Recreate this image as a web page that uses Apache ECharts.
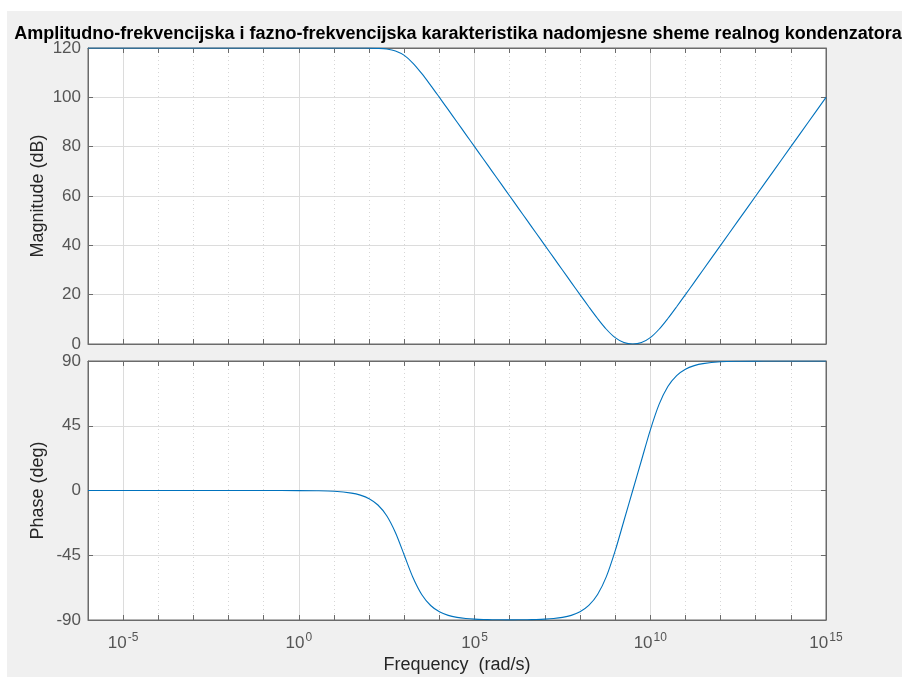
<!DOCTYPE html>
<html>
<head>
<meta charset="utf-8">
<script src="https://cdn.jsdelivr.net/npm/echarts@6/dist/echarts.min.js"></script>
<style>
html,body{margin:0;padding:0;background:#ffffff;}
#bg{position:absolute;left:7px;top:11px;right:0;bottom:0;background:#f0f0f0;}
#chart{position:absolute;left:0;top:0;width:902px;height:677px;}
</style>
</head>
<body>
<div id="bg"></div>
<div id="chart"></div>
<script>
// Frequency as decade exponent: omega = 10^exp (rad/s)
const freqExp = [-6,-5,-4,-3,-2,-1,0,0.5,1,1.5,1.75,2,2.25,2.5,2.75,3,3.25,3.5,3.75,4,4.25,4.5,4.75,5,5.25,5.5,5.75,6,6.25,6.5,6.75,7,7.25,7.5,7.75,8,8.25,8.5,8.75,9,9.25,9.5,9.75,10,10.25,10.5,10.75,11,11.25,11.5,12,12.5,13,13.5,14,14.5,15];
const magnitudeDb = [120,120,120,120,120,120,120,120,120,120,119.99,119.96,119.86,119.59,118.81,116.99,113.81,109.59,104.87,99.96,94.99,90.0,85.0,80.0,75.0,70.0,65.0,60.0,55.0,50.0,45.0,40.0,35.0,30.0,25.01,20.03,15.11,10.34,5.98,2.58,0.60,0.0,0.60,2.58,5.98,10.34,15.11,20.03,25.01,30.0,40.0,50.0,60.0,70.0,80.0,90.0,100.0];
const phaseDeg = [0,0,0,0,0,-0.01,-0.06,-0.18,-0.57,-1.81,-3.22,-5.71,-10.08,-17.55,-29.36,-45.0,-60.64,-72.45,-79.92,-84.29,-86.78,-88.19,-88.98,-89.42,-89.67,-89.80,-89.87,-89.89,-89.87,-89.80,-89.67,-89.42,-88.98,-88.19,-86.78,-84.28,-79.88,-72.29,-59.86,-41.99,-21.03,0.0,21.03,41.99,59.86,72.29,79.88,84.28,86.78,88.19,89.43,89.82,89.94,89.98,89.99,90.0,90.0];
const xTickExp = [-5,0,5,10,15];
const magTicks = [0,20,40,60,80,100,120];
const phaseTicks = [-90,-45,0,45,90];

const titleText = 'Amplitudno-frekvencijska i fazno-frekvencijska karakteristika nadomjesne sheme realnog kondenzatora';
const FONT = '"Liberation Sans", Arial, Helvetica, sans-serif';
const axisCol = '#6b6b6b';
const labelCol = '#555555';
const majorGrid = '#dcdcdc';
const minorGrid = '#d6d6d6';
const lineCol = '#0072bd';

const chart = echarts.init(document.getElementById('chart'), null, {renderer:'canvas'});

const gridBase = {show:true, backgroundColor:'#ffffff', borderColor:axisCol, borderWidth:1};
const grids = [
  Object.assign({left:88, top:48, width:738, height:296}, gridBase),
  Object.assign({left:88, top:361, width:738, height:259}, gridBase)
];

function xAxes(gi, showLabels) {
  const base = {
    type:'value', gridIndex:gi, min:-6, max:15, interval:1,
    axisLine:{show:true, onZero:false, lineStyle:{color:axisCol, width:1}},
    axisTick:{show:true, inside:true, length:5, lineStyle:{color:axisCol}},
  };
  const minorColors = [minorGrid,'rgba(0,0,0,0)',minorGrid,minorGrid,minorGrid];
  const majorColors = ['rgba(0,0,0,0)',majorGrid,'rgba(0,0,0,0)','rgba(0,0,0,0)','rgba(0,0,0,0)'];
  const bottom = Object.assign({}, base, {
    position:'bottom',
    splitLine:{show:true, lineStyle:{color:minorColors, type:[1,3], width:1}},
    axisLabel: showLabels ? {
      show:true, margin:12, color:labelCol, fontFamily:FONT, fontSize:17,
      formatter: function(v){ return xTickExp.indexOf(v) >= 0 ? '10{sup|' + v + '}' : ''; },
      rich:{sup:{fontSize:12, fontFamily:FONT, color:labelCol, verticalAlign:'top', padding:[0,0,11,1]}}
    } : {show:false},
    name: showLabels ? 'Frequency  (rad/s)' : '',
    nameLocation:'middle', nameGap:36, nameMoveOverlap:false,
    nameTextStyle:{color:'#262626', fontFamily:FONT, fontSize:18}
  });
  const top = Object.assign({}, base, {
    position:'top',
    splitLine:{show:true, lineStyle:{color:majorColors, type:'solid', width:1}},
    axisLabel:{show:false}
  });
  return [bottom, top];
}

function yAxes(gi, min, max, interval, name) {
  const base = {
    type:'value', gridIndex:gi, min:min, max:max, interval:interval,
    axisLine:{show:true, onZero:false, lineStyle:{color:axisCol, width:1}},
    axisTick:{show:true, inside:true, length:5, lineStyle:{color:axisCol}},
  };
  return [
    Object.assign({}, base, {
      position:'left',
      splitLine:{show:true, lineStyle:{color:majorGrid, width:1}},
      axisLabel:{show:true, margin:7, color:labelCol, fontFamily:FONT, fontSize:17},
      name:name, nameLocation:'middle', nameGap:41, nameMoveOverlap:false,
      nameTextStyle:{color:'#262626', fontFamily:FONT, fontSize:18}
    }),
    Object.assign({}, base, {
      position:'right', splitLine:{show:false}, axisLabel:{show:false}
    })
  ];
}

const xa = xAxes(0, false).concat(xAxes(1, true));
const ya = yAxes(0, 0, 120, 20, 'Magnitude (dB)').concat(yAxes(1, -90, 90, 45, 'Phase (deg)'));

chart.setOption({
  backgroundColor:'transparent',
  animation:false,
  title:{
    text:titleText, left:453, top:20, textAlign:'center',
    textStyle:{fontFamily:FONT, fontSize:18, fontWeight:'bold', color:'#000'}
  },
  grid:grids,
  xAxis:xa,
  yAxis:ya,
  series:[
    {type:'line', xAxisIndex:0, yAxisIndex:0, showSymbol:false, smooth:0.3,
     lineStyle:{color:lineCol, width:1.1}, clip:true,
     data:freqExp.map((e,i)=>[e, magnitudeDb[i]])},
    {type:'line', xAxisIndex:2, yAxisIndex:2, showSymbol:false, smooth:0.3,
     lineStyle:{color:lineCol, width:1.1}, clip:true,
     data:freqExp.map((e,i)=>[e, phaseDeg[i]])}
  ]
});
</script>
</body>
</html>
